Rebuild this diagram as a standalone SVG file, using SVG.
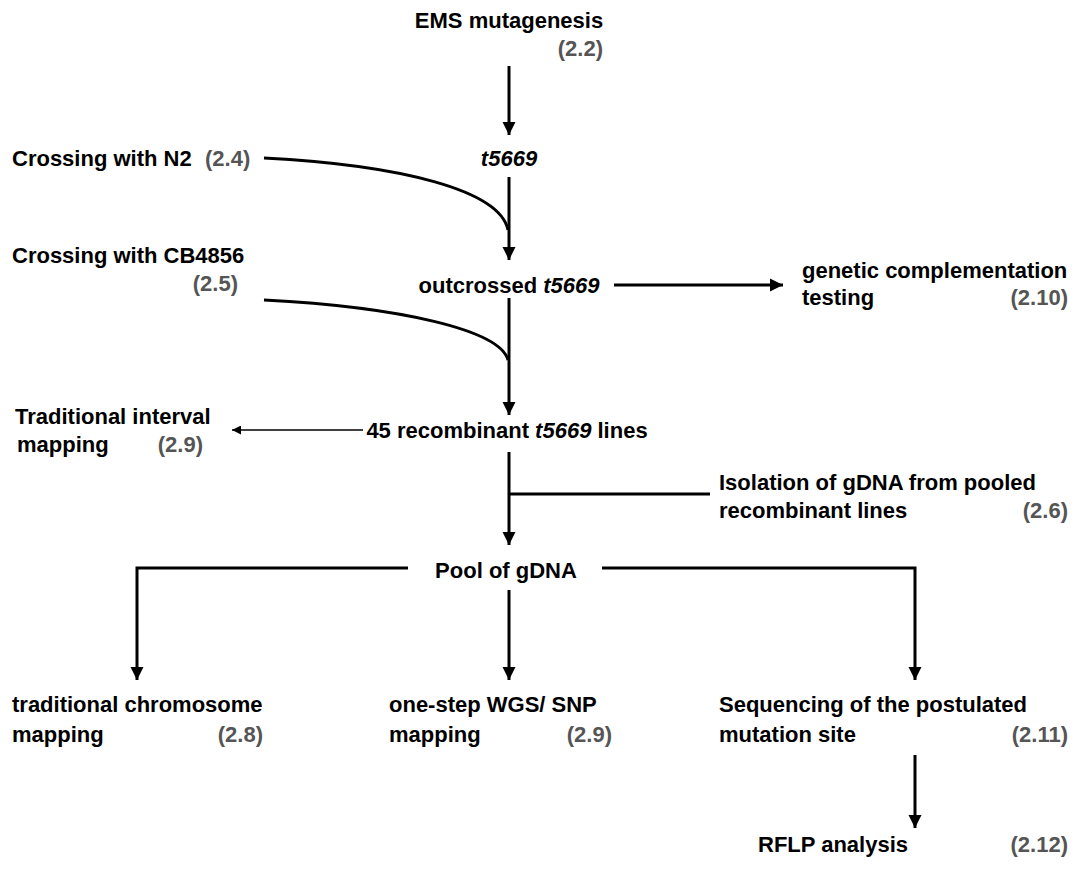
<svg xmlns="http://www.w3.org/2000/svg" width="1077" height="883" viewBox="0 0 1077 883">
<style>
text{font-family:"Liberation Sans",Arial,sans-serif;font-weight:bold;font-size:22px;fill:#000}
.r{fill:#555}
.i{font-style:italic}
.ln{fill:none;stroke:#000;stroke-width:3}
.thin{fill:none;stroke:#000;stroke-width:1.5}
</style>
<defs>
<marker id="ah" viewBox="0 0 10 10" refX="10" refY="5" markerWidth="4.5" markerHeight="4.5" orient="auto" markerUnits="strokeWidth"><path d="M0,0L10,5L0,10z" fill="#000"/></marker>
<marker id="ah2" viewBox="0 0 10 10" refX="10" refY="5" markerWidth="7" markerHeight="6" orient="auto" markerUnits="strokeWidth"><path d="M0,0L10,5L0,10z" fill="#000"/></marker>
</defs>
<g id="connectors">
<path class="ln" d="M509,66V135" marker-end="url(#ah)"/>
<path class="ln" d="M509,177V260" marker-end="url(#ah)"/>
<path class="ln" d="M264,158C400,165 500,190 508,230"/>
<path class="ln" d="M614,285H783" marker-end="url(#ah)"/>
<path class="ln" d="M509,298V415" marker-end="url(#ah)"/>
<path class="ln" d="M264,300C400,307 500,330 508,360"/>
<path class="thin" d="M363,430H232" marker-end="url(#ah2)"/>
<path class="ln" d="M509,452V545" marker-end="url(#ah)"/>
<path class="ln" d="M509,494H710"/>
<path class="ln" d="M408,568H137V680" marker-end="url(#ah)"/>
<path class="ln" d="M602,568H915V680" marker-end="url(#ah)"/>
<path class="ln" d="M509,590V680" marker-end="url(#ah)"/>
<path class="ln" d="M915,755V828" marker-end="url(#ah)"/>
</g>
<g id="ems"><text x="509" y="28" text-anchor="middle">EMS mutagenesis</text><text class="r" x="603" y="56" text-anchor="end">(2.2)</text></g>
<g id="t5669"><text class="i" x="509" y="166" text-anchor="middle">t5669</text></g>
<g id="n2"><text x="12" y="166">Crossing with N2</text><text class="r" x="205" y="166">(2.4)</text></g>
<g id="outcrossed"><text x="509" y="293" text-anchor="middle">outcrossed <tspan class="i">t5669</tspan></text></g>
<g id="complementation"><text x="802" y="278">genetic complementation</text><text x="802" y="305">testing</text><text class="r" x="1068" y="305" text-anchor="end">(2.10)</text></g>
<g id="cb4856"><text x="12" y="263">Crossing with CB4856</text><text class="r" x="238" y="291" text-anchor="end">(2.5)</text></g>
<g id="recombinant"><text x="507" y="438" text-anchor="middle">45 recombinant <tspan class="i">t5669</tspan> lines</text></g>
<g id="interval"><text x="15" y="424">Traditional interval</text><text x="17" y="452">mapping</text><text class="r" x="203" y="452" text-anchor="end">(2.9)</text></g>
<g id="isolation"><text x="719" y="490">Isolation of gDNA from pooled</text><text x="719" y="518">recombinant lines</text><text class="r" x="1068" y="518" text-anchor="end">(2.6)</text></g>
<g id="pool"><text x="506" y="578" text-anchor="middle">Pool of gDNA</text></g>
<g id="chromosome"><text x="12" y="712">traditional chromosome</text><text x="12" y="742">mapping</text><text class="r" x="263" y="742" text-anchor="end">(2.8)</text></g>
<g id="wgs"><text x="389" y="712">one-step WGS/ SNP</text><text x="389" y="742">mapping</text><text class="r" x="612" y="742" text-anchor="end">(2.9)</text></g>
<g id="sequencing"><text x="719" y="712">Sequencing of the postulated</text><text x="719" y="742">mutation site</text><text class="r" x="1068" y="742" text-anchor="end">(2.11)</text></g>
<g id="rflp"><text x="758" y="852">RFLP analysis</text><text class="r" x="1068" y="852" text-anchor="end">(2.12)</text></g>
</svg>
